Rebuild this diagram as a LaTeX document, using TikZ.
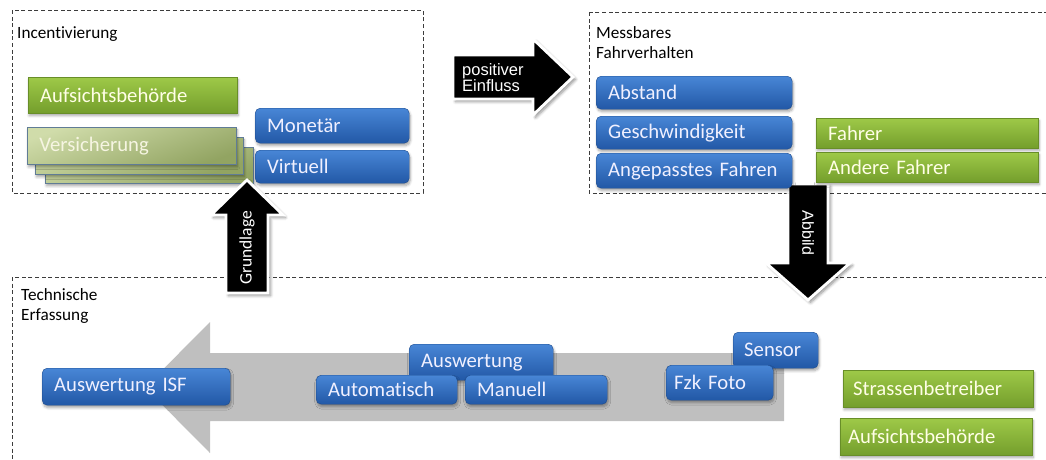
\documentclass[tikz,border=0pt]{standalone}
\usepackage{fontspec}
\setmainfont{Carlito}[Ligatures=NoCommon, WordSpace=0.85]
\newfontfamily\arialfont{Liberation Sans}
\usetikzlibrary{shadows.blur}

\definecolor{bTop}{RGB}{72,134,214}
\definecolor{bBot}{RGB}{34,88,166}
\definecolor{gTop}{RGB}{158,201,72}
\definecolor{gBot}{RGB}{116,158,44}
\definecolor{vTop}{RGB}{208,220,170}
\definecolor{vBot}{RGB}{146,164,98}
\definecolor{vEdge}{RGB}{96,124,150}
\definecolor{flowGray}{RGB}{191,191,191}
\definecolor{frameGray}{RGB}{60,60,60}

\tikzset{
  frame/.style={draw=frameGray, dash pattern=on 4pt off 2.6pt, line width=0.9pt},
  lbl/.style={anchor=base west, inner sep=0pt, font=\fontsize{17.2}{20}\selectfont, text=black},
  tile/.style={anchor=north west, inner xsep=12pt, inner ysep=0pt, align=left,
    font=\fontsize{20.7}{24}\selectfont},
  softshadow/.style={blur shadow={shadow xshift=1pt, shadow yshift=-2.5pt,
    shadow blur radius=2.5pt, shadow opacity=35, shadow blur steps=6}},
  bluebox/.style={tile, rounded corners=5pt, top color=bTop, bottom color=bBot,
    draw=bBot!85!black, line width=0.4pt, text=white!94!blue, softshadow},
  greenbox/.style={tile, top color=gTop, bottom color=gBot, draw=gBot!90!black,
    line width=0.3pt, text=white!90!yellow, softshadow},
  versbox/.style={tile, top color=vTop, bottom color=vBot, shading angle=20,
    draw=vEdge, line width=0.8pt, text=white!92!olive, softshadow},
  fatarrow/.style={fill=black, draw=white, line width=2.8pt, line join=miter,
    blur shadow={shadow xshift=2.5pt, shadow yshift=-2.5pt, shadow blur radius=3pt,
      shadow opacity=45, shadow blur steps=6}},
  arrowtext/.style={inner sep=0pt, text=white},
}

\begin{document}
\begin{tikzpicture}[x=1pt, y=-1pt]
\useasboundingbox (0,0) rectangle (1046,459);
\clip (0,0) rectangle (1046,459);

% dashed group frames
\draw[frame] (12,10) rectangle (423,193);
\draw[frame] (589,12) rectangle (1060,193);
\draw[frame] (12,277) rectangle (1060,480);

% group captions
\node[lbl] (capInc) at (17,38) {Incentivierung};
\node[lbl] (capMessA) at (596,38) {Messbares};
\node[lbl] (capMessB) at (596,58) {Fahrverhalten};
\node[lbl] (capTechA) at (21,300) {Technische};
\node[lbl] (capTechB) at (21,320) {Erfassung};

% wide grey process arrow pointing left
\fill[flowGray] (784,353) -- (210,353) -- (210,322) -- (145,387.5)
  -- (210,453) -- (210,421) -- (784,421) -- cycle;

% "Abbild" arrow (below the boxes of the upper right group)
\draw[fatarrow] (788,184) -- (828,184) -- (828,263) -- (850,263) -- (808,300)
  -- (766,263) -- (788,263) -- cycle;
\node[arrowtext, rotate=-90, font=\arialfont\fontsize{16}{18}\selectfont] (abbild) at (808,233) {Abbild};

% Incentivierung group
\node[greenbox, minimum width=209pt, minimum height=36pt, text width=185pt] (aufsA) at (28,77) {Aufsichtsbehörde};
\node[versbox, minimum width=208pt, minimum height=36pt, text width=184pt] (versC) at (45,147) {};
\node[versbox, minimum width=208pt, minimum height=37pt, text width=184pt] (versB) at (35,137) {};
\node[versbox, minimum width=209pt, minimum height=37pt, text width=185pt] (versA) at (27,127) {Versicherung};
\node[bluebox, minimum width=154pt, minimum height=35pt, text width=130pt] (monetaer) at (255,108) {Monetär};
\node[bluebox, minimum width=154pt, minimum height=33pt, text width=130pt] (virtuell) at (255,150) {Virtuell};

% Messbares Fahrverhalten group
\node[bluebox, minimum width=196pt, minimum height=33pt, text width=172pt] (abstand) at (596,76) {Abstand};
\node[bluebox, minimum width=196pt, minimum height=33pt, text width=172pt] (geschw) at (596,116) {Geschwindigkeit};
\node[bluebox, minimum width=196pt, minimum height=35pt, text width=172pt] (angep) at (596,153) {Angepasstes Fahren};
\node[greenbox, minimum width=222pt, minimum height=30pt, text width=198pt] (fahrer) at (816,118) {Fahrer};
\node[greenbox, minimum width=222pt, minimum height=30pt, text width=198pt] (andere) at (816,152) {Andere Fahrer};

% Technische Erfassung group
\node[bluebox, minimum width=188pt, minimum height=37pt, text width=164pt] (auswISF) at (42,368) {Auswertung ISF};
\node[bluebox, minimum width=144pt, minimum height=36pt, text width=120pt, inner ysep=0pt] (ausw) at (409,344) {\raisebox{2.5pt}{Auswertung}};
\node[bluebox, minimum width=141pt, minimum height=29pt, text width=117pt] (auto) at (316,375) {Automatisch};
\node[bluebox, minimum width=142pt, minimum height=29pt, text width=118pt] (manuell) at (465,375) {Manuell};
\node[bluebox, minimum width=85pt, minimum height=36pt, text width=63pt, inner xsep=11pt] (sensor) at (733,332) {Sensor};
\node[bluebox, minimum width=107pt, minimum height=35pt, text width=91pt, inner xsep=8pt] (fzk) at (666,365) {Fzk Foto};
\node[greenbox, minimum width=190pt, minimum height=37pt, text width=170pt, inner xsep=10pt] (strasse) at (843,370) {Strassenbetreiber};
\node[greenbox, minimum width=192pt, minimum height=37pt, text width=176pt, inner xsep=8pt] (aufsB) at (840,418) {Aufsichtsbehörde};

% "Grundlage" arrow
\draw[fatarrow] (226,293) -- (226,215) -- (211,215) -- (247,180) -- (283,215)
  -- (268,215) -- (268,293) -- cycle;
\node[arrowtext, rotate=90, font=\fontsize{17.5}{20}\selectfont] (grundlage) at (247,248) {Grundlage};

% "positiver Einfluss" arrow
\draw[fatarrow] (453,55) -- (533,55) -- (533,39) -- (573,77) -- (533,115)
  -- (533,99) -- (453,99) -- cycle;
\node[arrowtext, anchor=base west, font=\arialfont\fontsize{16.5}{18}\selectfont] (posA) at (462,75) {positiver};
\node[arrowtext, anchor=base west, font=\arialfont\fontsize{16.5}{18}\selectfont] (posB) at (462,91) {Einfluss};
\end{tikzpicture}
\end{document}
